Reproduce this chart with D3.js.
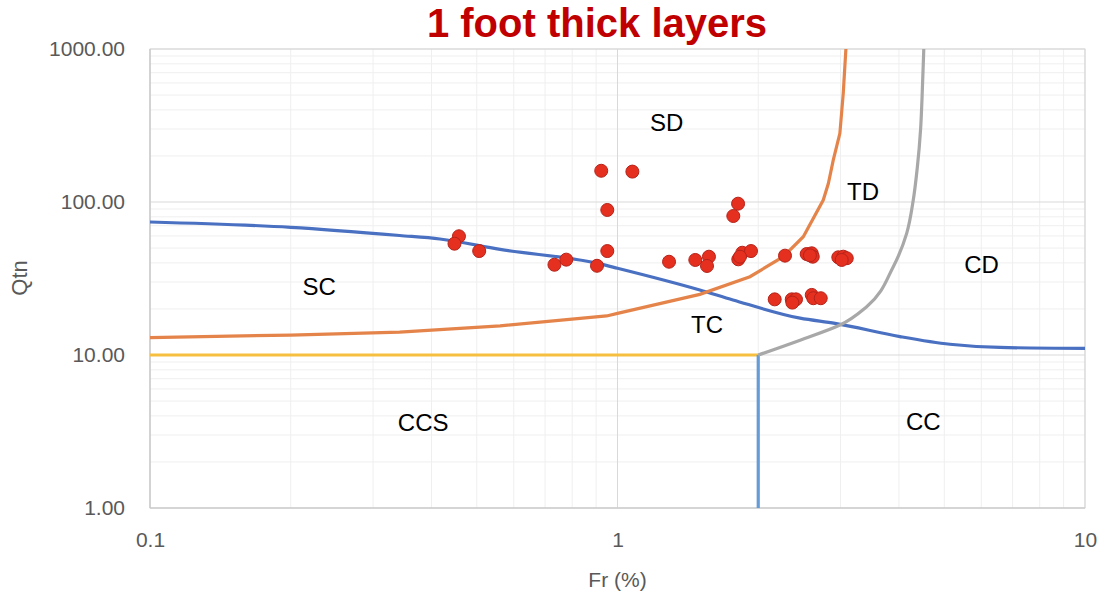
<!DOCTYPE html>
<html>
<head>
<meta charset="utf-8">
<script src="https://cdn.jsdelivr.net/npm/d3@7"></script>
<style>
  html, body { margin: 0; padding: 0; background: #ffffff; }
  svg { display: block; }
</style>
</head>
<body>
<svg id="chart" width="1101" height="597"></svg>
<script>
// Soil behaviour zone chart: normalised friction ratio vs. normalised cone resistance

// Measured points (Fr %, Qtn)
const pointFr = [0.923, 1.076, 0.951, 1.811, 1.769, 0.458, 0.448, 0.506, 0.951, 0.733,
                 0.777, 0.904, 1.289, 1.467, 1.569, 1.554, 1.813, 1.849, 1.930, 1.828,
                 2.282, 2.539, 2.603, 2.616, 2.580, 2.967, 3.041, 3.093, 3.017,
                 2.169, 2.359, 2.409, 2.366, 2.603, 2.624, 2.721];
const pointQtn = [160, 158, 88.7, 97.5, 81.0, 59.7, 53.4, 47.8, 47.8, 38.9,
                  42.0, 38.3, 40.7, 41.8, 43.9, 38.2, 42.2, 46.6, 47.8, 43.9,
                  44.6, 45.7, 46.2, 43.9, 44.8, 43.5, 43.9, 42.9, 41.8,
                  23.1, 23.1, 23.1, 22.0, 24.7, 23.5, 23.5];

// Zone boundaries
const sandClayFr  = [0.1, 0.2, 0.342, 0.417, 0.561, 0.917, 1.0, 1.5, 1.766, 2.458, 2.92, 4.02, 5.14, 6.58, 10];
const sandClayQtn = [74, 68.3, 60.4, 57.3, 49, 39.4, 36.9, 26.6, 22.9, 17.4, 16.1, 13.2, 11.75, 11.2, 11.05];

const contractFr  = [0.1, 0.2, 0.342, 0.561, 0.948, 1.0, 1.5, 1.92, 2.263, 2.497, 2.755, 2.825, 2.894, 2.99, 3.04, 3.08];
const contractQtn = [13.0, 13.5, 14.1, 15.5, 18.0, 18.7, 24.9, 32.5, 43.9, 59.3, 103, 132, 188, 281, 513, 1000];

const clayFr  = [2.0, 2.458, 2.991, 3.412, 3.89, 4.155, 4.292, 4.38, 4.45, 4.48, 4.52];
const clayQtn = [10, 12.5, 15.7, 20.7, 37.8, 62.4, 103, 170, 300, 464, 1000];

const ccsFr  = [0.1, 2.0];
const ccsQtn = [10, 10];

const ccFr  = [2.0, 2.0];
const ccQtn = [10, 1];

// Axis ticks
const xTickValues = [0.1, 1, 10];
const xTickLabels = ["0.1", "1", "10"];
const yTickValues = [1, 10, 100, 1000];
const yTickLabels = ["1.00", "10.00", "100.00", "1000.00"];

// Zone names and where they sit
const zoneNames = ["SD", "TD", "SC", "TC", "CD", "CCS", "CC"];
const zoneFr    = [1.274, 3.351, 0.23, 1.554, 6.01, 0.384, 4.51];
const zoneQtn   = [330, 116.7, 27.9, 15.7, 38.7, 3.59, 3.66];

const titleText = "1 foot thick layers";
const xLabel = "Fr (%)";
const yLabel = "Qtn";

const svg = d3.select("#chart");
const W = 1101, H = 597;
const margin = { left: 150, right: 16, top: 49, bottom: 89 };
const plotW = W - margin.left - margin.right;
const plotH = H - margin.top - margin.bottom;

const x = d3.scaleLog().domain([0.1, 10]).range([0, plotW]);
const y = d3.scaleLog().domain([1, 1000]).range([plotH, 0]);

const g = svg.append("g").attr("transform", `translate(${margin.left},${margin.top})`);

// Minor gridlines
const minorX = [], minorY = [];
[0.1, 1].forEach(d => { for (let k = 2; k <= 9; k++) minorX.push(d * k); });
[1, 10, 100].forEach(d => { for (let k = 2; k <= 9; k++) minorY.push(d * k); });

g.append("g").selectAll("line").data(minorX).join("line")
  .attr("x1", d => x(d)).attr("x2", d => x(d))
  .attr("y1", 0).attr("y2", plotH)
  .attr("stroke", "#efefef").attr("stroke-width", 1);
g.append("g").selectAll("line").data(minorY).join("line")
  .attr("y1", d => y(d)).attr("y2", d => y(d))
  .attr("x1", 0).attr("x2", plotW)
  .attr("stroke", "#efefef").attr("stroke-width", 1);

// Major gridlines
g.append("g").selectAll("line").data(xTickValues).join("line")
  .attr("x1", d => x(d)).attr("x2", d => x(d))
  .attr("y1", 0).attr("y2", plotH)
  .attr("stroke", "#d9d9d9").attr("stroke-width", 1);
g.append("g").selectAll("line").data(yTickValues).join("line")
  .attr("y1", d => y(d)).attr("y2", d => y(d))
  .attr("x1", 0).attr("x2", plotW)
  .attr("stroke", "#d9d9d9").attr("stroke-width", 1);

// Plot frame
g.append("rect").attr("x", 0).attr("y", 0).attr("width", plotW).attr("height", plotH)
  .attr("fill", "none").attr("stroke", "#d9d9d9").attr("stroke-width", 1);
g.append("line").attr("x1", 0).attr("x2", 0).attr("y1", 0).attr("y2", plotH)
  .attr("stroke", "#c8c8c8").attr("stroke-width", 1.2);
g.append("line").attr("x1", 0).attr("x2", plotW).attr("y1", plotH).attr("y2", plotH)
  .attr("stroke", "#c8c8c8").attr("stroke-width", 1.2);

// Axes
const xAxis = d3.axisBottom(x).tickValues(xTickValues)
  .tickFormat((d, i) => xTickLabels[i]).tickSize(0).tickPadding(24);
const yAxis = d3.axisLeft(y).tickValues(yTickValues)
  .tickFormat((d, i) => yTickLabels[i]).tickSize(0).tickPadding(25);

const axisFont = "'Liberation Sans', Arial, sans-serif";
const gx = g.append("g").attr("transform", `translate(0,${plotH})`).call(xAxis);
const gy = g.append("g").call(yAxis);
[gx, gy].forEach(a => {
  a.select(".domain").remove();
  a.selectAll("text").attr("fill", "#595959")
    .style("font-family", axisFont).style("font-size", "21px");
});

// Boundary lines
const lineOf = (frs, qs, curve) => d3.line()
  .x(i => x(frs[i])).y(i => y(qs[i])).curve(curve)(d3.range(frs.length));

g.append("path").attr("d", lineOf(ccsFr, ccsQtn, d3.curveLinear))
  .attr("fill", "none").attr("stroke", "#f6bf3f").attr("stroke-width", 3.2);
g.append("path").attr("d", lineOf(ccFr, ccQtn, d3.curveLinear))
  .attr("fill", "none").attr("stroke", "#659bd6").attr("stroke-width", 3.2);
g.append("path").attr("d", lineOf(sandClayFr, sandClayQtn, d3.curveMonotoneX))
  .attr("fill", "none").attr("stroke", "#4a70c2").attr("stroke-width", 3.2);
g.append("path").attr("d", lineOf(contractFr, contractQtn, d3.curveLinear))
  .attr("fill", "none").attr("stroke", "#e5844a").attr("stroke-width", 3.2);
g.append("path").attr("d", lineOf(clayFr, clayQtn, d3.curveMonotoneY))
  .attr("fill", "none").attr("stroke", "#a8a8a8").attr("stroke-width", 3.2);

// Zone names
g.append("g").selectAll("text").data(zoneNames).join("text")
  .attr("x", (d, i) => x(zoneFr[i])).attr("y", (d, i) => y(zoneQtn[i]))
  .attr("text-anchor", "middle").attr("dy", "0.35em")
  .style("font-family", axisFont).style("font-size", "24px")
  .attr("fill", "#000").text(d => d);

// Data points
g.append("g").selectAll("circle").data(d3.range(pointFr.length)).join("circle")
  .attr("cx", i => x(pointFr[i])).attr("cy", i => y(pointQtn[i]))
  .attr("r", 6.5)
  .attr("fill", "#e5301f").attr("stroke", "#b5231a").attr("stroke-width", 1);

// Title and axis titles
svg.append("text").attr("x", 597).attr("y", 37).attr("text-anchor", "middle")
  .style("font-family", axisFont).style("font-size", "40px").style("font-weight", "bold")
  .attr("fill", "#c00000").text(titleText);

svg.append("text").attr("x", margin.left + x(1)).attr("y", 587).attr("text-anchor", "middle")
  .style("font-family", axisFont).style("font-size", "21px")
  .attr("fill", "#595959").text(xLabel);

svg.append("text").attr("transform", "translate(27,278) rotate(-90)").attr("text-anchor", "middle")
  .style("font-family", axisFont).style("font-size", "22px")
  .attr("fill", "#595959").text(yLabel);
</script>
</body>
</html>
